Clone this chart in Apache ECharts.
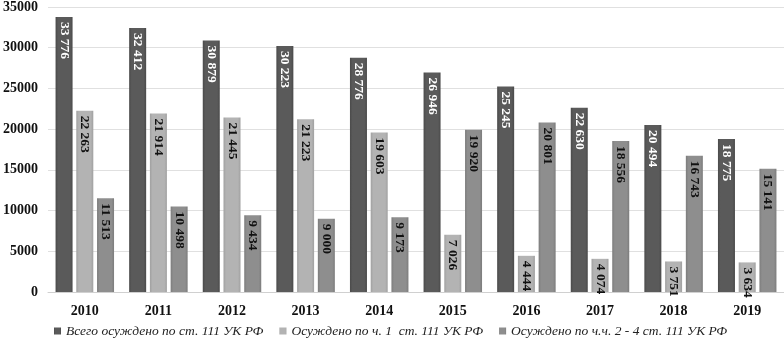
<!DOCTYPE html>
<html>
<head>
<meta charset="utf-8">
<script src="https://cdn.jsdelivr.net/npm/echarts@6/dist/echarts.min.js"></script>
<style>
html,body{margin:0;padding:0;background:#fff;}
#chart{width:784px;height:343px;}
</style>
</head>
<body>
<div id="chart"></div>
<script>
// данные
var years = ['2010','2011','2012','2013','2014','2015','2016','2017','2018','2019'];
var totalArr = [33776, 32412, 30879, 30223, 28776, 26946, 25245, 22630, 20494, 18775];
var part1Arr = [22263, 21914, 21445, 21223, 19603, 7026, 4444, 4074, 3751, 3634];
var part24Arr = [11513, 10498, 9434, 9000, 9173, 19920, 20801, 18556, 16743, 15141];
var seriesNames = ['Всего осуждено по ст. 111 УК РФ', 'Осуждено по ч. 1  ст. 111 УК РФ', 'Осуждено по ч.ч. 2 - 4 ст. 111 УК РФ'];

var serif = 'Liberation Serif';

function fmt(p) {
	return String(p.value).replace(/\B(?=(\d{3})+(?!\d))/g, ' ');
}

function barLabel(color) {
	return {
		show: true,
		position: 'insideTop',
		rotate: -90,
		align: 'left',
		verticalAlign: 'middle',
		distance: 5,
		color: color,
		fontFamily: serif,
		fontWeight: 'bold',
		fontSize: 13.5,
		formatter: fmt
	};
}

function grad(c1, c2) {
	return new echarts.graphic.LinearGradient(0, 0, 1, 0, [
		{offset: 0, color: c2},
		{offset: 0.15, color: c1},
		{offset: 0.85, color: c1},
		{offset: 1, color: c2}
	]);
}

var myChart = echarts.init(document.getElementById('chart'));
var option = {
	backgroundColor: '#ffffff',
	animation: false,
	grid: {
		left: 45.5,
		width: 747,
		top: 4,
		bottom: 51
	},
	legend: {
		top: 324,
		left: 54,
		padding: 0,
		itemWidth: 7,
		itemHeight: 7,
		itemGap: 16,
		icon: 'rect',
		textStyle: {
			fontFamily: serif,
			fontStyle: 'italic',
			fontSize: 13.5,
			color: '#222'
		},
		data: seriesNames
	},
	xAxis: {
		type: 'category',
		data: years,
		axisLine: {lineStyle: {color: '#d0d0d0'}},
		axisTick: {show: false},
		axisLabel: {
			margin: 12,
			fontFamily: serif,
			fontWeight: 'bold',
			fontSize: 14,
			color: '#111'
		}
	},
	yAxis: {
		type: 'value',
		min: 0,
		max: 35000,
		interval: 5000,
		axisLine: {show: false},
		axisTick: {show: false},
		splitLine: {lineStyle: {color: '#e0e0e0'}},
		axisLabel: {
			margin: 10,
			fontFamily: serif,
			fontWeight: 'bold',
			fontSize: 14,
			color: '#111',
			formatter: function(v) { return String(v); }
		}
	},
	series: [
		{
			name: seriesNames[0],
			type: 'bar',
			data: totalArr,
			barWidth: 17,
			barGap: '22%',
			itemStyle: {color: grad('#5a5a5a', '#4a4a4a')},
			label: barLabel('#ffffff')
		},
		{
			name: seriesNames[1],
			type: 'bar',
			data: part1Arr,
			barWidth: 17,
			barGap: '22%',
			itemStyle: {color: grad('#b3b3b3', '#a0a0a0')},
			label: barLabel('#111111')
		},
		{
			name: seriesNames[2],
			type: 'bar',
			data: part24Arr,
			barWidth: 17,
			barGap: '22%',
			itemStyle: {color: grad('#8e8e8e', '#7c7c7c')},
			label: barLabel('#111111')
		}
	]
};
myChart.setOption(option);
</script>
</body>
</html>
